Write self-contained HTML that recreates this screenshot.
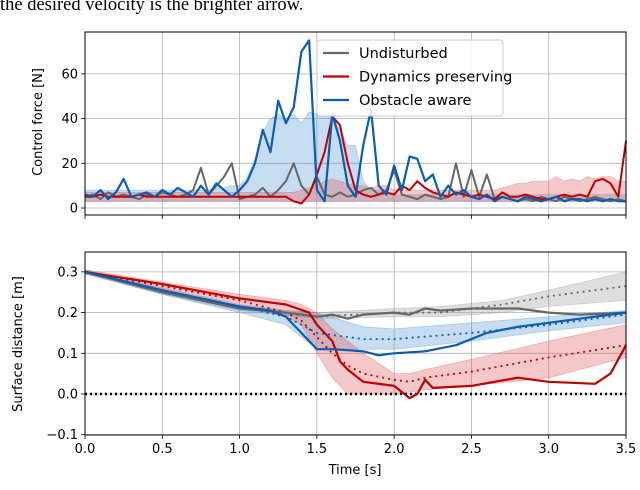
<!DOCTYPE html>
<html><head><meta charset="utf-8"><style>
body{margin:0;background:#fff;width:640px;height:485px;overflow:hidden}
svg text{font-family:"DejaVu Sans","Liberation Sans",sans-serif}
</style></head><body>
<svg id="c" width="640" height="485" xmlns="http://www.w3.org/2000/svg">
<text x="0" y="10" font-size="18.5" style="font-family:'Liberation Serif',serif">the desired velocity is the brighter arrow.</text>
</svg>
<script>
const xTicks=[0,0.5,1,1.5,2,2.5,3,3.5];
const xTickLabels=["0.0","0.5","1.0","1.5","2.0","2.5","3.0","3.5"];
const fTicks=[0,20,40,60];
const dTicks=[-0.1,0,0.1,0.2,0.3];
const dTickLabels=["\u22120.1","0.0","0.1","0.2","0.3"];
const tF=Array.from({length:71},(_,i)=>i*0.05);
const forceGray=[5,6,4,7,5,6,5,4,6,5,7,6,5,6,8,18,6,10,14,20,4,5,6,9,5,8,12,20,10,6,14,6,5,7,5,6,8,9,6,8,17,6,5,4,6,5,4,5,20,5,17,5,15,4,5,4,3,4,3,5,4,3,5,4,3,4,5,4,3,4,3];
const forceRed=[5,5,6,5,5,5,5,6,5,5,5,5,5,5,5,5,5,5,5,5,5,5,5,5,5,5,5,3,2,6,15,25,41,37,20,8,6,5,6,7,6,10,8,12,9,7,6,5,7,6,5,6,5,4,7,5,5,6,5,4,4,5,6,5,6,5,12,13,11,5,30];
const forceBlue=[6,5,8,4,7,13,5,6,7,5,8,6,9,7,5,10,6,11,8,5,8,12,20,35,25,48,38,45,70,75,8,3,42,30,10,5,28,44,10,6,19,8,23,22,12,15,5,10,6,8,5,4,6,3,5,4,3,5,4,3,4,5,3,4,4,3,4,3,4,3,3];
const blueBandHi=[8,8,8,8,8,8,8,8,8,8,8,8,8,8,8,8,8,9,9,10,10,14,22,34,40,42,40,42,38,43,42,42,40,35,28,28,12,8,8,7,6,6,6,6,6,6,6,6,6,6,6,6,6,6,6,6,6,6,6,6,6,6,6,6,6,6,6,6,6,6,6];
const redBandHi=[7,7,7,7,7,7,7,7,7,7,7,7,7,7,7,7,7,7,7,7,7,7,7,7,7,7,7,7,8,9,10,12,13,12,11,10,10,9,10,10,8,8,8,8,8,8,8,8,8,8,8,8,8,8,9,10,11,11,12,12,12,14,12,13,12,14,13,14,14,12,12];
const bandLo=[3,3,3,3,3,3,3,3,3,3,3,3,3,3,3,3,3,3,3,3,3,3,3,3,3,3,3,3,3,3,3,3,3,3,3,3,3,3,3,3,3,3,3,3,3,3,3,3,3,3,3,3,3,3,3,3,3,3,3,3,3,3,3,3,3,3,3,3,3,3,3];
const tG=[0,0.5,1.0,1.3,1.5,1.6,1.7,1.8,2.0,2.1,2.2,2.3,2.5,2.8,3.0,3.2,3.5];
const distGray=[0.3,0.25,0.21,0.2,0.19,0.195,0.185,0.195,0.2,0.195,0.21,0.205,0.21,0.21,0.2,0.195,0.2];
const tGm=[0,0.5,1.0,1.5,2.0,2.3,2.7,3.0,3.5];
const distGrayMean=[0.3,0.25,0.21,0.19,0.2,0.2,0.22,0.24,0.265];
const grayBandHi=[0.305,0.255,0.215,0.2,0.21,0.215,0.23,0.255,0.3];
const grayBandLo=[0.295,0.245,0.205,0.185,0.19,0.19,0.2,0.215,0.23];
const tR=[0,0.5,1.0,1.3,1.45,1.5,1.6,1.65,1.7,1.8,2.0,2.1,2.15,2.2,2.25,2.5,2.8,3.0,3.3,3.4,3.5];
const distRed=[0.3,0.27,0.235,0.22,0.2,0.17,0.13,0.08,0.06,0.03,0.02,-0.01,0.0,0.035,0.015,0.02,0.04,0.03,0.025,0.05,0.12];
const tRm=[0,0.5,1.0,1.3,1.4,1.5,1.6,1.7,1.8,2.0,2.1,2.2,2.5,3.0,3.5];
const distRedMean=[0.3,0.265,0.23,0.2,0.18,0.14,0.1,0.07,0.05,0.035,0.03,0.04,0.055,0.09,0.12];
const redBandHiD=[0.305,0.275,0.245,0.23,0.22,0.2,0.16,0.13,0.1,0.05,0.05,0.06,0.085,0.13,0.17];
const redBandLoD=[0.295,0.26,0.22,0.19,0.17,0.1,0.04,0.0,0.0,0.0,0.005,0.01,0.02,0.04,0.09];
const tB=[0,0.5,1.0,1.2,1.3,1.4,1.5,1.6,1.8,1.9,2.0,2.2,2.4,2.6,2.8,3.0,3.2,3.5];
const distBlue=[0.3,0.255,0.215,0.205,0.19,0.15,0.11,0.11,0.105,0.095,0.1,0.105,0.12,0.15,0.165,0.175,0.185,0.2];
const tBm=[0,0.5,1.0,1.3,1.5,1.8,2.0,2.5,3.0,3.5];
const distBlueMean=[0.3,0.255,0.215,0.19,0.15,0.135,0.135,0.15,0.17,0.195];
const blueBandHiD=[0.305,0.26,0.22,0.205,0.2,0.165,0.16,0.175,0.19,0.205];
const blueBandLoD=[0.295,0.245,0.2,0.17,0.11,0.11,0.11,0.13,0.155,0.175];

const svg=document.getElementById('c');const NS='http://www.w3.org/2000/svg';
const X0=85,X1=626;
const sx=t=>X0+t/3.5*(X1-X0);
const fy=v=>208-v*2.235;
const dy=v=>394-v*407;
function mk(tag,at,name){const e=document.createElementNS(NS,tag);for(const k in at)e.setAttribute(k,at[k]);


svg.appendChild(e);return e;}
function pts(ts,vs,yf){return ts.map((t,i)=>sx(t).toFixed(1)+','+yf(vs[i]).toFixed(1)).join(' ');}
function band(ts,hi,lo,yf,col,name){const p=pts(ts,hi,yf)+' '+pts(ts.slice().reverse(),lo.slice().reverse(),yf);mk('polygon',{points:p,fill:col,'fill-opacity':0.35,stroke:col,'stroke-opacity':0.4,'stroke-width':0.8},name);}
function line(ts,vs,yf,col,w,name,dash){const a={points:pts(ts,vs,yf),fill:'none',stroke:col,'stroke-width':w,'stroke-linejoin':'round'};if(dash)a['stroke-dasharray']=dash;mk('polyline',a,name);}
function axes(top,bot,yt,yf,labels,pre){
 xTicks.forEach(t=>{mk('line',{x1:sx(t),x2:sx(t),y1:top,y2:bot,stroke:'#b0b0b0','stroke-width':0.8},pre+'x-grid');
 mk('line',{x1:sx(t),x2:sx(t),y1:bot,y2:bot+4,stroke:'#000','stroke-width':0.8},pre+'x-tick');});
 yt.forEach((v,i)=>{mk('line',{x1:X0,x2:X1,y1:yf(v),y2:yf(v),stroke:'#b0b0b0','stroke-width':0.8},pre+'y-grid');
 mk('line',{x1:X0-4,x2:X0,y1:yf(v),y2:yf(v),stroke:'#000','stroke-width':0.8},pre+'y-tick');
 const tx=mk('text',{x:X0-7,y:yf(v)+4.5,'font-size':13,'text-anchor':'end'},pre+'y-tick-label');tx.textContent=labels[i];});
}
axes(32,215,fTicks,fy,fTicks.map(String),'force-');
band(tF,blueBandHi,bandLo,fy,'#5b9bd5','blue-band-force');
band(tF,redBandHi,bandLo,fy,'#e06060','red-band-force');
line(tF,forceGray,fy,'#666',2,'gray-force-line');
line(tF,forceRed,fy,'#c00000',2,'red-force-line');
line(tF,forceBlue,fy,'#0a5db0',2.2,'blue-force-line');
mk('rect',{x:X0,y:32,width:X1-X0,height:183,fill:'none',stroke:'#000','stroke-width':1},'force-axes-frame');
axes(252,435,dTicks,dy,dTickLabels,'dist-');
band(tGm,grayBandHi,grayBandLo,dy,'#a0a0a0','gray-band-dist');
band(tBm,blueBandHiD,blueBandLoD,dy,'#5b9bd5','blue-band-dist');
band(tRm,redBandHiD,redBandLoD,dy,'#e06060','red-band-dist');
mk('line',{x1:X0,x2:X1,y1:dy(0),y2:dy(0),stroke:'#000','stroke-width':2.5,'stroke-dasharray':'2,3'},'zero-line');
line(tGm,distGrayMean,dy,'#666',1.8,'gray-mean-line','2,4');
line(tRm,distRedMean,dy,'#c00000',1.8,'red-mean-line','2,4');
line(tBm,distBlueMean,dy,'#0a5db0',1.8,'blue-mean-line','2,4');
line(tG,distGray,dy,'#666',2.2,'gray-dist-line');
line(tR,distRed,dy,'#c00000',2.2,'red-dist-line');
line(tB,distBlue,dy,'#0a5db0',2.2,'blue-dist-line');
mk('rect',{x:X0,y:252,width:X1-X0,height:183,fill:'none',stroke:'#000','stroke-width':1},'dist-axes-frame');
xTicks.forEach((t,i)=>{const tx=mk('text',{x:sx(t),y:453,'font-size':13,'text-anchor':'middle'},'x-tick-label');tx.textContent=xTickLabels[i];});
let tx=mk('text',{x:355,y:474,'font-size':13,'text-anchor':'middle'},'x-axis-title');tx.textContent='Time [s]';
tx=mk('text',{x:0,y:0,'font-size':13,'text-anchor':'middle',transform:'translate(42,122) rotate(-90)'},'force-y-axis-title');tx.textContent='Control force [N]';
tx=mk('text',{x:0,y:0,'font-size':13,'text-anchor':'middle',transform:'translate(22,344) rotate(-90)'},'dist-y-axis-title');tx.textContent='Surface distance [m]';
mk('rect',{x:317,y:40,width:186,height:76,rx:3,fill:'#fff','fill-opacity':0.85,stroke:'#ccc'},'legend-box');
[['Undisturbed','#666'],['Dynamics preserving','#c00000'],['Obstacle aware','#0a5db0']].forEach((s,i)=>{const y=53+i*23.5;
mk('line',{x1:323,x2:349,y1:y,y2:y,stroke:s[1],'stroke-width':2.2},'legend-swatch');
const t=mk('text',{x:359,y:y+5,'font-size':14.5},'legend-entry');t.textContent=s[0];});
</script>
</body></html>
